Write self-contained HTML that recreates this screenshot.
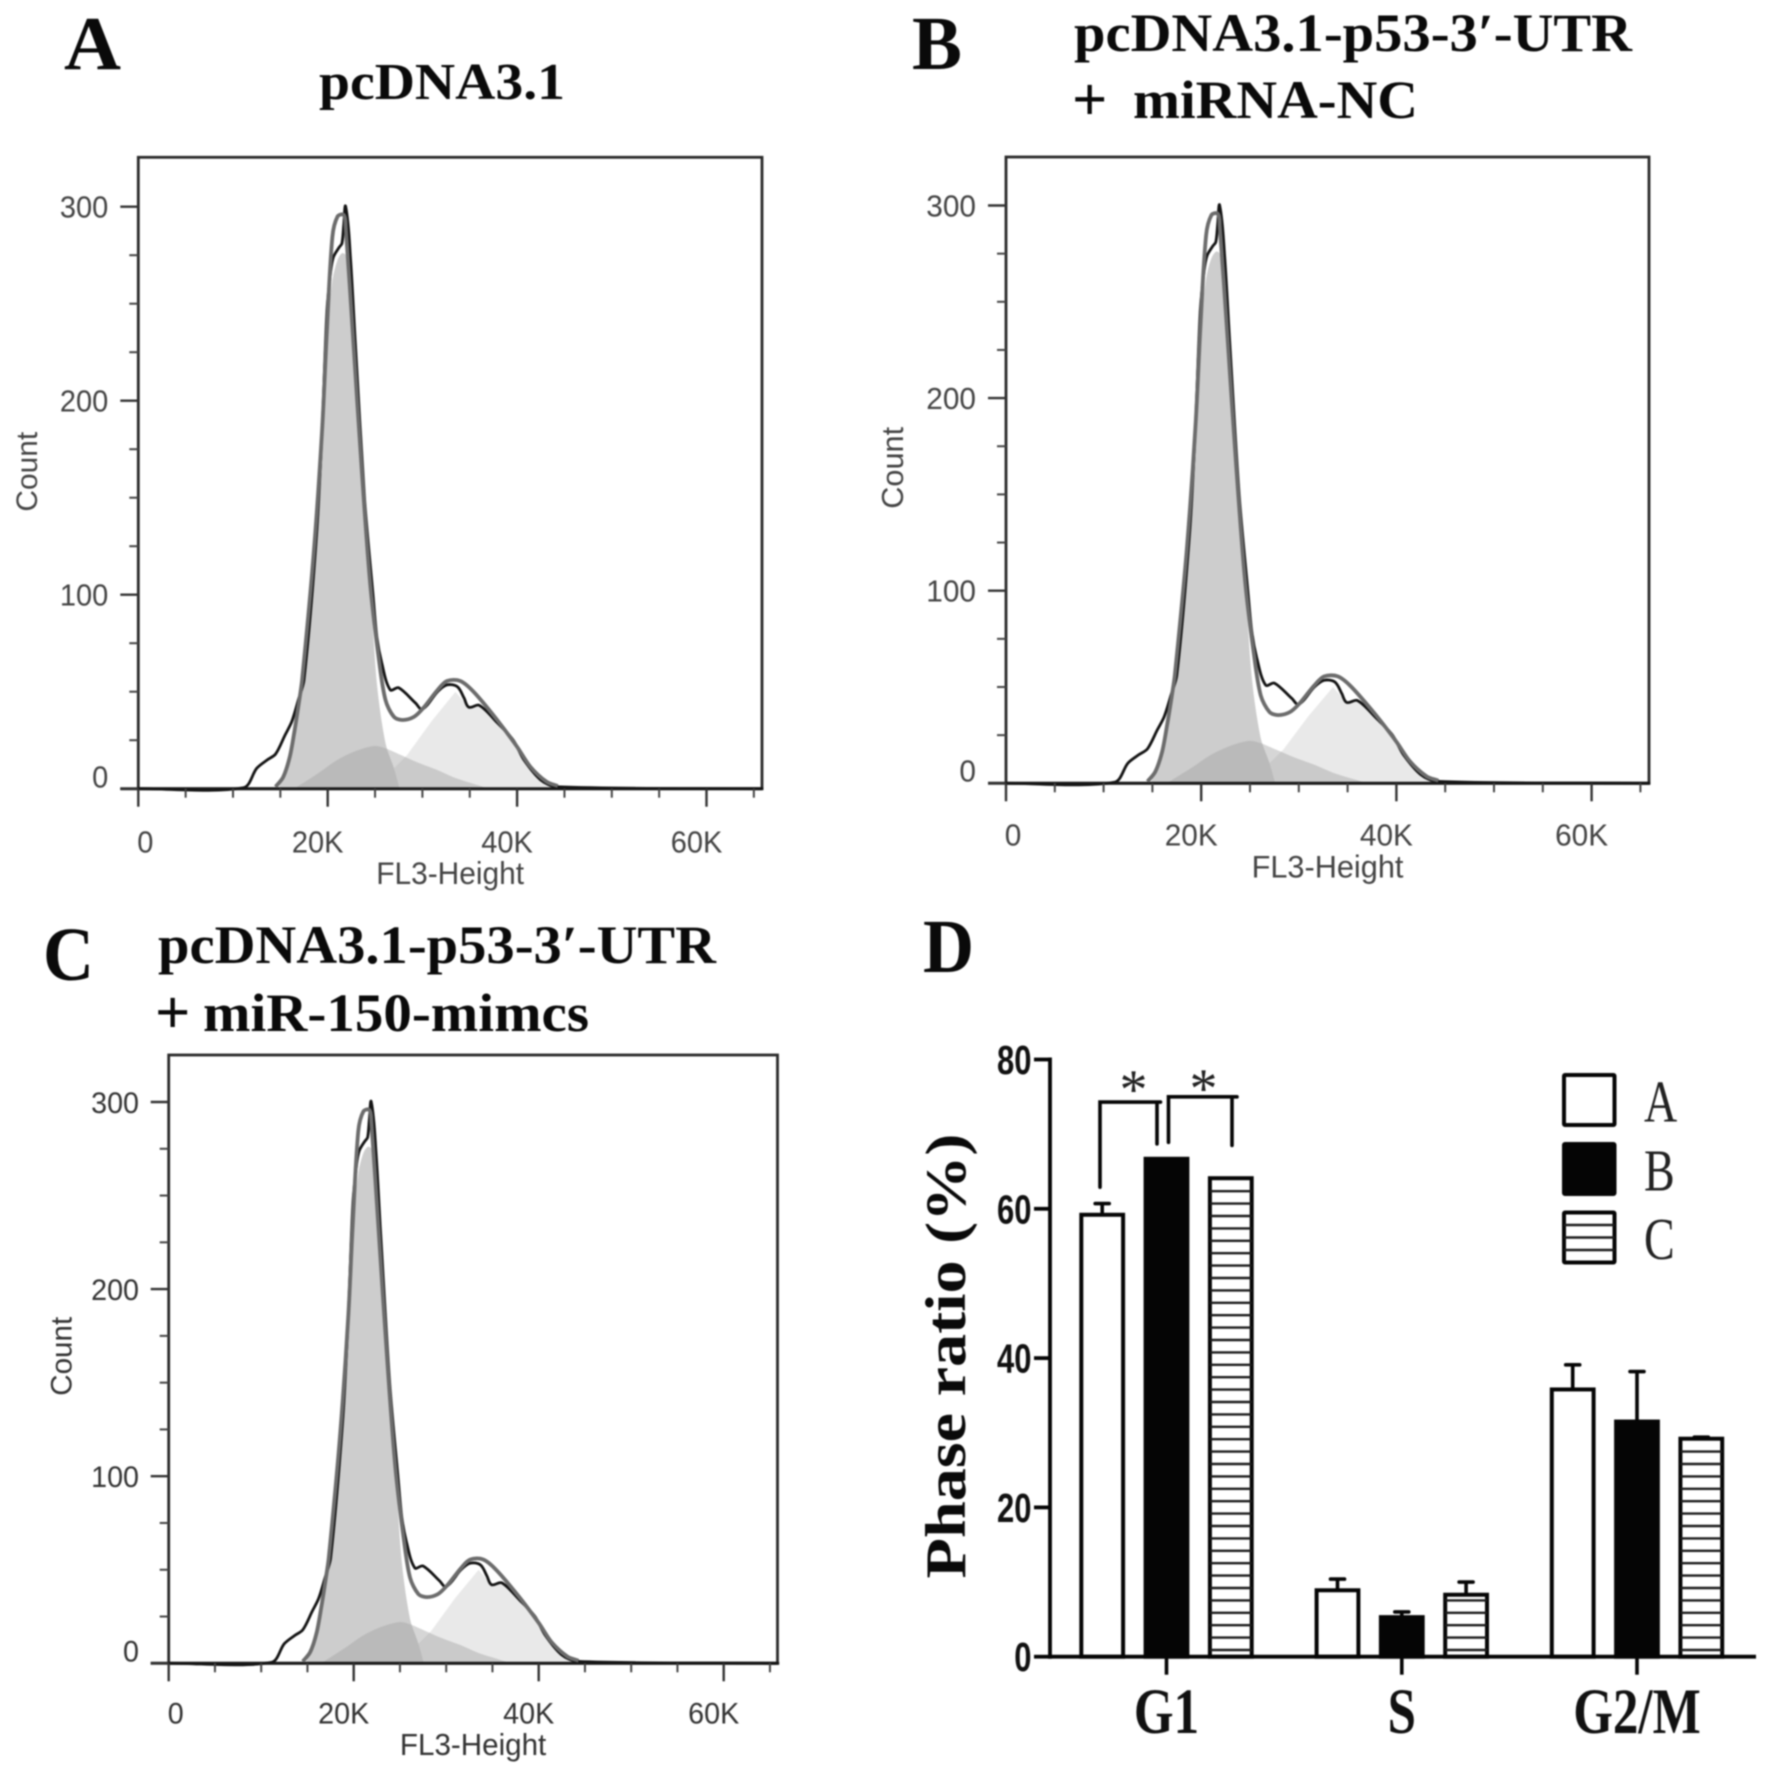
<!DOCTYPE html>
<html lang="en">
<head>
<meta charset="utf-8">
<title>Cell cycle flow cytometry panels</title>
<style>
  html, body { margin: 0; padding: 0; background: #fff; }
  #figure { display: block; width: 1772px; height: 1778px; filter: blur(0.7px); }
  .serif-b { font-family: "Liberation Serif", serif; font-weight: 700; fill: #0a0a0a; }
</style>
</head>
<body>
<svg id="figure" xmlns="http://www.w3.org/2000/svg" width="1772" height="1778" viewBox="0 0 1772 1778">
  <rect width="1772" height="1778" fill="#fff"/>

  <text class="serif-b" x="64" y="69" font-size="76" textLength="57" lengthAdjust="spacingAndGlyphs">A</text>
  <text class="serif-b" x="319" y="99" font-size="52" textLength="246" lengthAdjust="spacingAndGlyphs">pcDNA3.1</text>

  <text class="serif-b" x="912" y="69" font-size="76" textLength="50" lengthAdjust="spacingAndGlyphs">B</text>
  <text class="serif-b" x="1074" y="51" font-size="54" textLength="558" lengthAdjust="spacingAndGlyphs">pcDNA3.1-p53-3′-UTR</text>
  <text class="serif-b" x="1072" y="120" font-size="62">+</text>
  <text class="serif-b" x="1133" y="118" font-size="54" textLength="285" lengthAdjust="spacingAndGlyphs">miRNA-NC</text>

  <text class="serif-b" x="43" y="980" font-size="76" textLength="51" lengthAdjust="spacingAndGlyphs">C</text>
  <text class="serif-b" x="158" y="963" font-size="54" textLength="558" lengthAdjust="spacingAndGlyphs">pcDNA3.1-p53-3′-UTR</text>
  <text class="serif-b" x="155" y="1033" font-size="62">+</text>
  <text class="serif-b" x="203" y="1031" font-size="54" textLength="386" lengthAdjust="spacingAndGlyphs">miR-150-mimcs</text>

  <text class="serif-b" x="923" y="972" font-size="76" textLength="51" lengthAdjust="spacingAndGlyphs">D</text>

  <text class="serif-b" transform="translate(965 1356) rotate(-90)" text-anchor="middle" font-size="57" textLength="445" lengthAdjust="spacingAndGlyphs">Phase ratio (%)</text>

  <g id="flow-panels"></g>
  <g id="bar-panel"></g>
</svg>

<script>
// ---------- Flow histogram data (FL3-Height in thousands, Count) ----------
const rawK = [0, 11.1, 12.5, 13.6, 14.5, 15.5, 16.2, 16.9, 17.5, 18.8, 19.4, 19.9, 20.3, 20.6, 21.2, 21.5, 21.7, 21.9, 22.4, 22.9, 23.9, 24.8, 25.2, 25.7, 26.6, 27.5, 29.3, 30, 31.6, 32.6, 33.7, 34.4, 34.9, 36, 37.9, 39.6, 40.7, 42.5, 44.2, 66];
const rawCount = [0, 0.5, 10.5, 14.8, 17.9, 27.7, 34.5, 45.7, 56, 129, 184, 245, 266, 274, 279, 281, 291, 300, 274, 231, 149, 99, 78, 65, 51, 52, 44, 41, 50, 53.5, 52.6, 46.7, 42, 43, 34, 25, 15, 4.5, 1, 0];
const fitK = [14.5, 15.3, 16, 16.5, 17, 17.3, 18.5, 19.4, 19.9, 20.5, 21.05, 21.7, 21.9, 22.7, 23.6, 24.5, 25.4, 26.1, 27, 27.9, 29.1, 30.1, 31.6, 32.6, 34, 35.4, 37.9, 40, 41.4, 43.1, 44.3];
const fitCount = [1, 6, 16.5, 30, 45.7, 56, 120, 184, 235, 284.5, 295, 295.7, 289.7, 231, 164, 105, 67, 45.7, 37, 35.4, 37, 41.6, 50.9, 55.5, 55.5, 50, 35.4, 21.6, 11.3, 3.6, 1.4];
const g1K = [14.8, 15.3, 16, 16.5, 17, 17.3, 18.5, 19.4, 19.9, 20.5, 21, 21.5, 21.9, 22.7, 23.6, 24.5, 25.2, 26.1, 27, 27.6];
const g1Count = [0, 6, 16, 30, 45, 56, 120, 184, 235, 262, 272, 276, 275, 231, 164, 105, 54, 23.5, 10.5, 0];
const sPhaseK = [16.5, 17.1, 19, 21, 23, 24.9, 26, 27.7, 29.5, 31.6, 33.5, 35.8, 37];
const sPhaseCount = [0, 2, 8, 14.8, 19.5, 22, 21, 17.4, 13.5, 9.6, 5.5, 1.9, 0];
const g2K = [27, 28.4, 31, 33.5, 34.9, 36, 37.9, 40, 41.4, 43.1, 44.3, 45, 27.6];
const g2Count = [10.5, 17.4, 35, 50, 42, 43, 35.4, 21.6, 11.3, 3.6, 1.4, 0, 0];
const countTicks = [0, 100, 200, 300];
const countMinorTicks = [25, 50, 75, 125, 150, 175, 225, 250, 275];
const heightTicks = [0, 20, 40, 60];
const heightTickLabels = ['0', '20K', '40K', '60K'];
const heightMinorTicks = [5, 10, 15, 25, 30, 35, 45, 50, 55, 65];

// ---------- Bar chart data ----------
const phases = ['G1', 'S', 'G2/M'];
const groups = ['A', 'B', 'C'];
const meansA = [59.2, 8.9, 35.8];
const meansB = [66.7, 5.3, 31.5];
const meansC = [64.1, 8.3, 29.2];
const errorsA = [1.5, 1.5, 3.3];
const errorsB = [0, 0.7, 6.7];
const errorsC = [0, 1.7, 0.2];
const ratioTicks = [0, 20, 40, 60, 80];

// ---------- Helpers ----------
const NS = 'http://www.w3.org/2000/svg';
function mk(tag, parent, attrs) {
  const el = document.createElementNS(NS, tag);
  for (const k in attrs) el.setAttribute(k, attrs[k]);
  parent.appendChild(el);
  return el;
}
function placeText(el, str, x, y, opts) {
  opts = opts || {};
  el.textContent = str;
  el.setAttribute('font-family', opts.family || '"Liberation Sans", sans-serif');
  el.setAttribute('font-size', opts.size || 28);
  el.setAttribute('font-weight', opts.weight || 400);
  el.setAttribute('fill', opts.fill || '#444');
  el.setAttribute('text-anchor', opts.anchor || 'start');
  el.setAttribute('transform', `translate(${x} ${y}) rotate(${opts.rot || 0}) scale(${opts.sx || 1} ${opts.sy || 1})`);
}
function zip(xs, ys, fx, fy) {
  return xs.map((v, i) => fx(v).toFixed(1) + ',' + fy(ys[i]).toFixed(1)).join(' ');
}
// Chord-scaled Catmull-Rom: tangent handles are limited by the segment length,
// so a long flat run does not distort the short segments beside it.
function smoothPath(xs, ys, fx, fy, close) {
  const pts = xs.map((v, i) => [fx(v), fy(ys[i])]);
  const dist = (a, b) => Math.hypot(a[0] - b[0], a[1] - b[1]) || 1;
  let d = `M${pts[0][0].toFixed(1)} ${pts[0][1].toFixed(1)}`;
  const f = 0.3;
  for (let i = 0; i < pts.length - 1; i++) {
    const p0 = pts[Math.max(i - 1, 0)], p1 = pts[i], p2 = pts[i + 1], p3 = pts[Math.min(i + 2, pts.length - 1)];
    const len = dist(p1, p2);
    const s1 = f * len / dist(p0, p2), s2 = f * len / dist(p1, p3);
    const c1x = p1[0] + (p2[0] - p0[0]) * s1, c1y = p1[1] + (p2[1] - p0[1]) * s1;
    const c2x = p2[0] - (p3[0] - p1[0]) * s2, c2y = p2[1] - (p3[1] - p1[1]) * s2;
    d += ` C${c1x.toFixed(1)} ${c1y.toFixed(1)} ${c2x.toFixed(1)} ${c2y.toFixed(1)} ${p2[0].toFixed(1)} ${p2[1].toFixed(1)}`;
  }
  return close ? d + ' Z' : d;
}

// ---------- Flow panels ----------
const flowLayouts = {
  a: { left: 138.3, right: 762, top: 157.3, bottom: 788.7, zeroLabel: -1, pxK: 9.47, pxC: 1.94, font: 29, gap: 12, xBase: 63.6, titleBase: 95.3, countX: -101.3, countY: -317, fill: '#444' },
  b: { left: 1006, right: 1649, top: 157, bottom: 783.3, zeroLabel: -1.6, pxK: 9.76, pxC: 1.926, font: 29.8, gap: 12, xBase: 62.4, titleBase: 94, countX: -103, countY: -315.5, fill: '#444' },
  c: { left: 168.7, right: 777.5, top: 1055, bottom: 1663.3, zeroLabel: -1.6, pxK: 9.25, pxC: 1.871, font: 28.7, gap: 11.7, xBase: 60, titleBase: 91.7, countX: -97.4, countY: -307, fill: '#333' }
};

function drawFlow(id, p) {
  const root = document.getElementById('flow-panels');
  const g = mk('g', root, {});
  
  
  const xS = k => p.left + k * p.pxK;
  const yS = c => p.bottom - c * p.pxC;

  const frame = mk('rect', g, { x: p.left, y: p.top, width: p.right - p.left, height: p.bottom - p.top, fill: '#fff', stroke: '#2a2a2a', 'stroke-width': 2.8 });
  
  

  const fillG2 = mk('polygon', g, { points: zip(g2K, g2Count, xS, yS), fill: '#e9e9e9' });
  
  

  const fillG1 = mk('path', g, { d: smoothPath(g1K, g1Count, xS, yS, true), fill: '#cdcdcd' });
  
  

  const fillS = mk('path', g, { d: smoothPath(sPhaseK, sPhaseCount, xS, yS, true), fill: '#a4a4a4', 'fill-opacity': 0.45 });
  
  

  const base = mk('line', g, { x1: p.left - 18, x2: p.right, y1: yS(0), y2: yS(0), stroke: '#1a1a1a', 'stroke-width': 3 });
  
  

  const raw = mk('path', g, { d: smoothPath(rawK, rawCount, xS, yS), fill: 'none', stroke: '#141414', 'stroke-width': 2.8, 'stroke-linejoin': 'round' });
  
  

  const fit = mk('path', g, { d: smoothPath(fitK, fitCount, xS, yS), fill: 'none', stroke: '#6c6c6c', 'stroke-width': 3.8, 'stroke-linejoin': 'round' });
  
  

  countTicks.forEach(c => {
    const t = mk('line', g, { x1: p.left - 18, x2: p.left, y1: yS(c), y2: yS(c), stroke: '#333', 'stroke-width': 2.4 });
    
    
    const lab = mk('text', g, {});
    placeText(lab, String(c), p.left - 18 - p.gap, yS(c) + (c === 0 ? p.zeroLabel : 11), { size: p.font, anchor: 'end', fill: p.fill, sy: 1.04 });
    
    
  });
  countMinorTicks.forEach(c => {
    const t = mk('line', g, { x1: p.left - 9, x2: p.left, y1: yS(c), y2: yS(c), stroke: '#444', 'stroke-width': 2 });
    
    
  });
  heightTicks.forEach((k, i) => {
    const t = mk('line', g, { x1: xS(k), x2: xS(k), y1: yS(0), y2: yS(0) + 18, stroke: '#333', 'stroke-width': 2.4 });
    
    
    const lab = mk('text', g, {});
    placeText(lab, heightTickLabels[i], xS(k) + (k === 0 ? 7 : -10), p.bottom + p.xBase, { size: p.font, anchor: 'middle', fill: p.fill, sy: 1.04 });
    
    
  });
  heightMinorTicks.forEach(k => {
    const t = mk('line', g, { x1: xS(k), x2: xS(k), y1: yS(0), y2: yS(0) + 9, stroke: '#444', 'stroke-width': 2 });
    
    
  });

  const xt = mk('text', g, {});
  placeText(xt, 'FL3-Height', (p.left + p.right) / 2, p.bottom + p.titleBase, { size: p.font + 0.9, anchor: 'middle', fill: p.fill, sy: 1.04 });
  
  

  const yt = mk('text', g, {});
  placeText(yt, 'Count', p.left + p.countX, p.bottom + p.countY, { size: p.font + 0.9, anchor: 'middle', fill: p.fill, rot: -90 });
  
  
}
drawFlow('a', flowLayouts.a);
drawFlow('b', flowLayouts.b);
drawFlow('c', flowLayouts.c);

// ---------- Bar chart ----------
const D = { axisX: 1050, zeroY: 1656.7, pxV: 7.465, right: 1756, barW: 41.8, step: 64.3, hatch: 12.4 };
const phaseCentres = { 'G1': 1166.5, 'S': 1401.8, 'G2/M': 1637 };
const yD = v => D.zeroY - v * D.pxV;
const xD = (phase, groupIdx) => phaseCentres[phase] + (groupIdx - 1) * D.step;
const barRoot = document.getElementById('bar-panel');
const meansBy = [meansA, meansB, meansC];
const errorsBy = [errorsA, errorsB, errorsC];
const stroke = '#050505';

function hatchLines(parent, x0, x1, yTop, yBottom, spacing, inset) {
  for (let y = yBottom - inset; y > yTop + 3; y -= spacing) {
    mk('line', parent, { x1: x0, x2: x1, y1: y, y2: y, stroke: '#1c1c1c', 'stroke-width': 2.4 });
  }
}

phases.forEach((phase, pi) => {
  groups.forEach((grp, gi) => {
    const cx = xD(phase, gi);
    const mean = meansBy[gi][pi];
    const err = errorsBy[gi][pi];
    const key = `${phase.replace('/', '')}-${grp}`.toLowerCase();

    if (err > 0) {
      const stem = mk('line', barRoot, { x1: cx, x2: cx, y1: yD(mean), y2: yD(mean + err), stroke: stroke, 'stroke-width': 3.6 });
      
      
      const cap = mk('line', barRoot, { x1: cx - 7, x2: cx + 7, y1: yD(mean + err), y2: yD(mean + err), stroke: stroke, 'stroke-width': 3.6, 'stroke-linecap': 'round' });
      
      
    }

    const bar = mk('rect', barRoot, {
      x: cx - D.barW / 2, y: yD(mean), width: D.barW, height: D.zeroY - yD(mean),
      fill: gi === 1 ? stroke : '#fff', stroke: stroke, 'stroke-width': 4
    });
    
    

    if (gi === 2) {
      const hatch = mk('g', barRoot, {});
      
      
      hatchLines(hatch, cx - D.barW / 2, cx + D.barW / 2, yD(mean), D.zeroY, D.hatch, 6.7);
    }
  });
});

// axes
const yAxis = mk('line', barRoot, { x1: D.axisX, x2: D.axisX, y1: yD(80) - 2, y2: D.zeroY + 2, stroke: stroke, 'stroke-width': 3.8 });


const xAxis = mk('line', barRoot, { x1: D.axisX, x2: D.right, y1: D.zeroY, y2: D.zeroY, stroke: stroke, 'stroke-width': 3.8 });



ratioTicks.forEach(v => {
  const t = mk('line', barRoot, { x1: D.axisX - 16, x2: D.axisX, y1: yD(v), y2: yD(v), stroke: stroke, 'stroke-width': 3.8 });
  
  
  const lab = mk('text', barRoot, {});
  placeText(lab, String(v), D.axisX - 18.5, yD(v) + 14.5, { size: 31, weight: 700, anchor: 'end', fill: '#111', sy: 1.33 });
  
  
});

phases.forEach(phase => {
  const cx = xD(phase, 1);
  const t = mk('line', barRoot, { x1: cx, x2: cx, y1: D.zeroY, y2: D.zeroY + 18, stroke: stroke, 'stroke-width': 3.6 });
  
  
  const lab = mk('text', barRoot, {});
  placeText(lab, phase, cx, 1733, { size: 51, weight: 700, anchor: 'middle', fill: '#111', family: '"Liberation Serif", serif', sy: 1.26 });
  
  
});

// significance brackets (heights in axis units)
const bracketFirst = { left: 62.9, top: 74.3, right: 68.7 };
const bracketSecond = { left: 68.9, top: 75, right: 68.5 };
const g1c = phaseCentres['G1'];
const brA = mk('path', barRoot, {
  d: `M${g1c - 66.5} ${yD(bracketFirst.left)} V${yD(bracketFirst.top)} H${g1c - 6} M${g1c - 9.5} ${yD(bracketFirst.top)} V${yD(bracketFirst.right)}`,
  fill: 'none', stroke: stroke, 'stroke-width': 3.6, 'stroke-linecap': 'round'
});


const brB = mk('path', barRoot, {
  d: `M${g1c + 2} ${yD(bracketSecond.left)} V${yD(bracketSecond.top)} H${g1c + 70.5} M${g1c + 65.5} ${yD(bracketSecond.top)} V${yD(bracketSecond.right)}`,
  fill: 'none', stroke: stroke, 'stroke-width': 3.6, 'stroke-linecap': 'round'
});



const starA = mk('text', barRoot, {});
placeText(starA, '*', g1c - 33, 1108, { size: 56, family: '"Liberation Serif", serif', anchor: 'middle', fill: '#222' });


const starB = mk('text', barRoot, {});
placeText(starB, '*', g1c + 37, 1107, { size: 56, family: '"Liberation Serif", serif', anchor: 'middle', fill: '#222' });



// legend
const legendTop = { A: 1075, B: 1144, C: 1212.5 };
const legendBase = { A: 1121.6, B: 1190.6, C: 1259 };
groups.forEach((grp, gi) => {
  const box = mk('rect', barRoot, { x: 1564, y: legendTop[grp], width: 50.5, height: 50, fill: gi === 1 ? stroke : '#fff', stroke: stroke, 'stroke-width': 4, rx: 1 });
  
  
  if (gi === 2) {
    const h = mk('g', barRoot, {});
    
    
    hatchLines(h, 1564, 1614.5, legendTop[grp], legendTop[grp] + 50, 12.5, 12.5);
  }
  const lab = mk('text', barRoot, {});
  placeText(lab, grp, 1644, legendBase[grp], { size: 46, family: '"Liberation Serif", serif', fill: '#222', sy: 1.3 });
  
  
});
</script>
</body>
</html>
